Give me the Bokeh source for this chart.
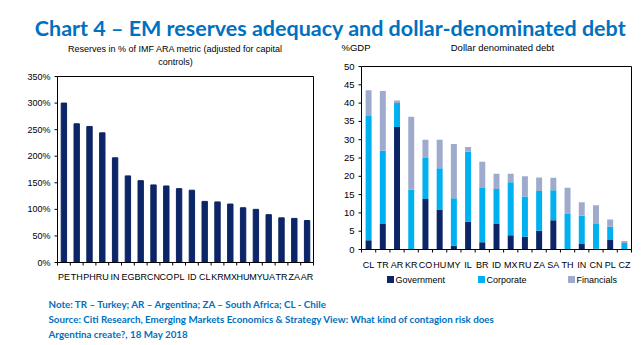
import math
import numpy as np
from bokeh.plotting import figure
from bokeh.models import Label, Range1d, ColumnDataSource
from bokeh.core.properties import value
from bokeh.embed import file_html
from bokeh.resources import INLINE

# ---------------- data ----------------
main_title = "Chart 4 \u2013 EM reserves adequacy and dollar-denominated debt"
left_title = ["Reserves in % of IMF ARA metric (adjusted for capital", "controls)"]
right_title = "Dollar denominated debt"
right_unit = "%GDP"
notes = [
    "Note: TR \u2013 Turkey; AR \u2013 Argentina; ZA \u2013 South Africa; CL - Chile",
    "Source: Citi Research, Emerging Markets Economics & Strategy View: What kind of contagion risk does",
    "Argentina create?, 18 May 2018",
]

res_countries = ["PE", "TH", "PH", "RU", "IN", "EG", "BR", "CN", "CO", "PL",
                 "ID", "CL", "KR", "MX", "HU", "MY", "UA", "TR", "ZA", "AR"]
res_values = [300, 261, 256, 244, 197, 163, 154, 146, 144, 139,
              136, 115, 114, 110, 103, 100, 90, 84, 83, 79]
res_ticks = [0, 50, 100, 150, 200, 250, 300, 350]

debt_countries = ["CL", "TR", "AR", "KR", "CO", "HU", "MY", "IL", "BR", "ID",
                  "MX", "RU", "ZA", "SA", "TH", "IN", "CN", "PL", "CZ"]
government = [2.5, 7.0, 33.5, 0.0, 13.8, 10.9, 1.0, 7.6, 2.0, 7.1,
              3.9, 3.5, 5.1, 8.0, 0.0, 1.5, 0.2, 2.6, 0.0]
corporate = [34.0, 20.0, 6.5, 16.3, 11.2, 11.3, 13.0, 19.1, 14.8, 9.4,
             14.5, 11.0, 10.9, 8.2, 9.7, 7.7, 6.8, 3.6, 1.8]
financials = [7.0, 16.3, 0.7, 20.0, 5.0, 7.8, 14.8, 1.3, 7.2, 4.2,
              2.3, 5.5, 3.7, 3.4, 7.2, 3.7, 5.1, 2.0, 0.5]
debt_series = ["Government", "Corporate", "Financials"]
debt_ticks = [0, 5, 10, 15, 20, 25, 30, 35, 40, 45, 50]

# ---------------- styles / layout (pixels) ----------------
BLUE_TXT = "#0070c0"
NAVY = "#0b2566"
CYAN = "#00b0f0"
GREYBLUE = "#9eabcd"
series_colors = [NAVY, CYAN, GREYBLUE]
AXF = "Liberation Sans"
TXT = "Lato"
W, H = 642, 345

# frames: (left px, right px, top px, bottom px), measured from the top-left corner
LF = (57, 313, 76, 262)
RF = (361, 631, 66, 249)


def span_range(v0, v1, p0, p1, total):
    """Range whose value v0 lands on pixel p0 and v1 on pixel p1."""
    upp = (v1 - v0) / (p1 - p0)
    start = v0 - p0 * upp
    return Range1d(start, start + total * upp)


n1, n2 = len(res_countries), len(debt_countries)

p = figure(width=W, height=H, x_range=Range1d(0, W), y_range=Range1d(0, H),
           x_axis_location=None, y_axis_location=None, toolbar_location=None,
           output_backend="svg", min_border=0)
p.outline_line_color = None
p.grid.visible = False
p.background_fill_color = "white"
p.border_fill_color = "white"

p.extra_x_ranges = {
    "lx": span_range(-0.5, n1 - 0.5, LF[0], LF[1], W),
    "rx": span_range(-0.5, n2 - 0.5, RF[0], RF[1], W),
}
p.extra_y_ranges = {
    "ly": span_range(0, res_ticks[-1], H - LF[3], H - LF[2], H),
    "ry": span_range(0, debt_ticks[-1], H - RF[3], H - RF[2], H),
}

# ---------------- left chart ----------------
LR = dict(x_range_name="lx", y_range_name="ly")
x1 = list(range(n1))
p.vbar(x=x1, top=res_values, width=0.42, color=NAVY, **LR)
p.quad(left=[-0.5], right=[n1 - 0.5], bottom=[0], top=[res_ticks[-1]],
       fill_color=None, line_color="black", line_width=1, **LR)
# y ticks and labels
p.ray(x=[-0.5] * len(res_ticks), y=res_ticks, length=3, length_units="screen",
      angle=math.pi, line_color="black", line_width=1, **LR)
p.text(x=[-0.5] * len(res_ticks), y=res_ticks, text=[f"{v}%" for v in res_ticks],
       x_offset=-7, text_align="right", text_baseline="middle",
       text_font=value(AXF), text_font_size="9px", text_color="black", **LR)
# x ticks between categories and labels
p.ray(x=[i - 0.5 for i in range(n1 + 1)], y=[0] * (n1 + 1), length=3, length_units="screen",
      angle=-math.pi / 2, line_color="black", line_width=1, **LR)
p.text(x=x1, y=[0] * n1, text=res_countries, y_offset=14,
       text_align="center", text_baseline="middle",
       text_font=value(AXF), text_font_size="9px", text_color="black", **LR)

# ---------------- right chart ----------------
RR = dict(x_range_name="rx", y_range_name="ry")
src = ColumnDataSource(dict(x=list(range(n2)), Government=government,
                            Corporate=corporate, Financials=financials))
p.vbar_stack(debt_series, x="x", width=0.42, source=src,
             color=series_colors, line_color=None, **RR)
p.quad(left=[-0.5], right=[n2 - 0.5], bottom=[0], top=[debt_ticks[-1]],
       fill_color=None, line_color="black", line_width=1, **RR)
p.ray(x=[-0.5] * len(debt_ticks), y=debt_ticks, length=3, length_units="screen",
      angle=math.pi, line_color="black", line_width=1, **RR)
p.text(x=[-0.5] * len(debt_ticks), y=debt_ticks, text=[str(v) for v in debt_ticks],
       x_offset=-7, text_align="right", text_baseline="middle",
       text_font=value(AXF), text_font_size="9.5px", text_color="black", **RR)
p.ray(x=[i - 0.5 for i in range(n2 + 1)], y=[0] * (n2 + 1), length=3, length_units="screen",
      angle=-math.pi / 2, line_color="black", line_width=1, **RR)
p.text(x=list(range(n2)), y=[0] * n2, text=debt_countries, y_offset=15,
       text_align="center", text_baseline="middle",
       text_font=value(AXF), text_font_size="9px", text_color="black", **RR)

# legend (below right chart)
leg_x = [390, 481, 571]
leg_y = H - 279
p.scatter(x=leg_x, y=[leg_y] * 3, marker="square", size=7, color=series_colors, line_color=None)
p.text(x=[v + 5 for v in leg_x], y=[leg_y] * 3, text=debt_series, text_align="left",
       text_baseline="middle", text_font=value(AXF), text_font_size="9px", text_color="black")

# ---------------- texts ----------------
p.add_layout(Label(x=330, y=H - 27, text=main_title, text_align="center",
                   text_baseline="alphabetic", text_font=TXT, text_font_style="bold",
                   text_font_size="21.5px", text_color=BLUE_TXT))
for txt, yabs in zip(left_title, (48, 61)):
    p.add_layout(Label(x=175, y=H - yabs, text=txt, text_align="center", text_baseline="middle",
                       text_font=AXF, text_font_size="9px", text_color="black"))
p.add_layout(Label(x=502, y=H - 47, text=right_title, text_align="center", text_baseline="middle",
                   text_font=AXF, text_font_size="9.5px", text_color="black"))
p.add_layout(Label(x=341, y=H - 47, text=right_unit, text_align="left", text_baseline="middle",
                   text_font=AXF, text_font_size="9.5px", text_color="black"))
for txt, base in zip(notes, (303, 318, 333)):
    p.add_layout(Label(x=48, y=H - base, text=txt, text_align="left",
                       text_baseline="alphabetic", text_font=TXT, text_font_style="bold",
                       text_font_size="9.8px", text_color=BLUE_TXT))

open("out.html", "w").write(file_html(p, INLINE))
